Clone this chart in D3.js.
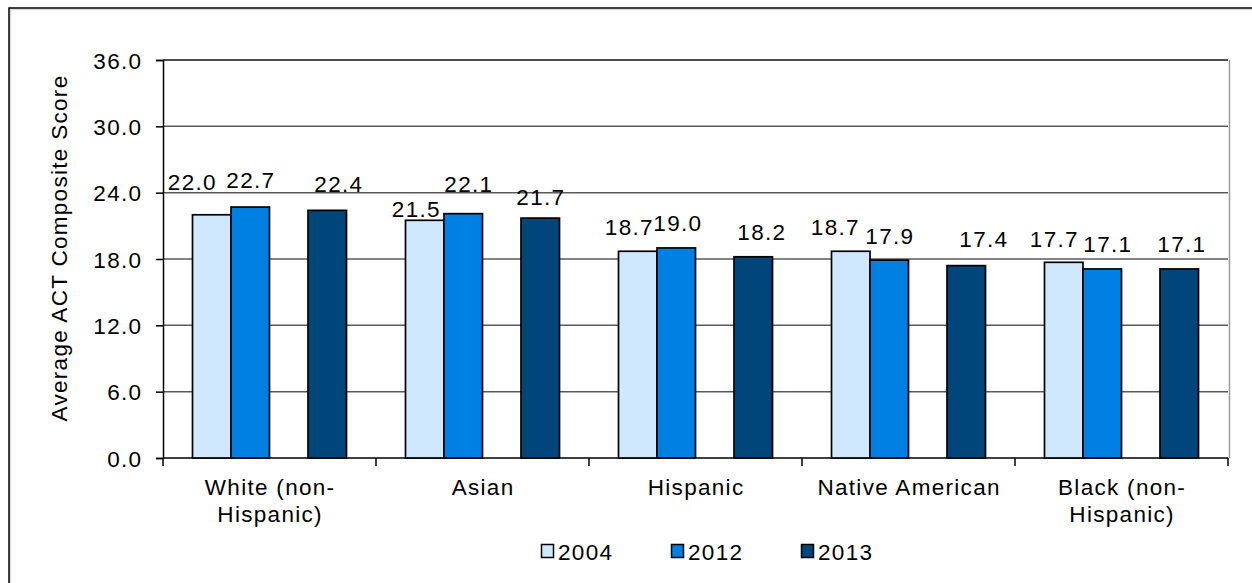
<!DOCTYPE html>
<html>
<head>
<meta charset="utf-8">
<script src="https://cdn.jsdelivr.net/npm/d3@7"></script>
<style>
  html, body { margin: 0; padding: 0; background: #fff; }
  svg { display: block; }
  text { font-family: "Liberation Sans", Arial, sans-serif; fill: #000; }
</style>
</head>
<body>
<svg id="chart" width="1252" height="583"></svg>
<script>
// Average ACT composite score by race/ethnicity
const categories = ["White (non-\nHispanic)", "Asian", "Hispanic", "Native American", "Black (non-\nHispanic)"];
const years = ["2004", "2012", "2013"];
const scores2004 = [22.0, 21.5, 18.7, 18.7, 17.7];
const scores2012 = [22.7, 22.1, 19.0, 17.9, 17.1];
const scores2013 = [22.4, 21.7, 18.2, 17.4, 17.1];
const yTicks = [0, 6, 12, 18, 24, 30, 36];

// bar slots inside each category (third slot is an empty series)
const slots = ["2004", "2012", "(blank)", "2013"];
const colors = { "2004": "#cfe8fd", "2012": "#0080e3", "2013": "#00467a" };

// hand-placed label offsets [dx, dy] from the default above-bar position
const nudge2004 = [[-20, -8], [-9, 13], [-9, 0], [-16, 0], [-10, 1]];
const nudge2012 = [[0, -2.5], [5, -5], [1, 0], [0, 0], [5, 0]];
const nudge2013 = [[11, -2], [0, 3], [8, 0], [17, -2], [2, 0]];

const seriesValues = { "2004": scores2004, "2012": scores2012, "2013": scores2013 };
const seriesNudge = { "2004": nudge2004, "2012": nudge2012, "2013": nudge2013 };

const svg = d3.select("#chart");
const plot = { left: 163, right: 1228, top: 60, bottom: 458 };
const LS = "1.3px";
const FS = "22.5px";

// outer chart border with soft shadow
svg.append("rect").attr("x", 10.5).attr("y", 9.5).attr("width", 1260).attr("height", 600)
  .attr("fill", "none").attr("stroke", "#d9d9d9").attr("stroke-width", 1.5);
svg.append("rect").attr("x", 9).attr("y", 8).attr("width", 1260).attr("height", 600)
  .attr("fill", "none").attr("stroke", "#000").attr("stroke-width", 1.5);

const x0 = d3.scaleBand().domain(categories).range([plot.left, plot.right]).padding(0);
const x1 = d3.scaleBand().domain(slots).range([29.5, x0.bandwidth() - 29.5]).padding(0);
const y = d3.scaleLinear().domain([0, 36]).range([plot.bottom, plot.top]);

// plot area shadow on right edge
svg.append("line").attr("x1", plot.right + 1.5).attr("x2", plot.right + 1.5)
  .attr("y1", plot.top).attr("y2", plot.bottom)
  .attr("stroke", "#9a9a9a").attr("stroke-width", 1.5);

// horizontal gridlines
svg.append("g").selectAll("line").data(yTicks.filter(t => t > 0)).join("line")
  .attr("x1", plot.left).attr("x2", plot.right)
  .attr("y1", d => y(d)).attr("y2", d => y(d))
  .attr("stroke", d => d === 36 ? "#111" : "#5a5a5a").attr("stroke-width", 1.5);

// y axis
const yAxis = d3.axisLeft(y).tickValues(yTicks).tickFormat(d3.format(".1f"))
  .tickSize(7).tickPadding(0);
const gy = svg.append("g").attr("transform", `translate(${plot.left},0)`).call(yAxis);
gy.select(".domain").attr("stroke", "#000").attr("stroke-width", 1.5);
gy.selectAll(".tick line").attr("stroke", "#000").attr("stroke-width", 1.5);
gy.selectAll(".tick text")
  .attr("x", -20.7).attr("dy", null).attr("y", 8)
  .style("font-size", FS).style("letter-spacing", LS).attr("font-family", null);

// x axis line and category separators
svg.append("line").attr("x1", plot.left).attr("x2", plot.right)
  .attr("y1", plot.bottom).attr("y2", plot.bottom)
  .attr("stroke", "#000").attr("stroke-width", 1.5);
const sepX = categories.map(c => x0(c)).concat([plot.right]);
svg.append("g").selectAll("line").data(sepX).join("line")
  .attr("x1", d => d).attr("x2", d => d)
  .attr("y1", plot.bottom).attr("y2", plot.bottom + 8)
  .attr("stroke", "#000").attr("stroke-width", 1.5);

// category labels
const catG = svg.append("g").selectAll("text").data(categories).join("text")
  .attr("text-anchor", "middle")
  .attr("transform", d => `translate(${x0(d) + x0.bandwidth() / 2 + 0.6},495)`)
  .style("font-size", FS).style("letter-spacing", LS);
catG.each(function (d) {
  const t = d3.select(this);
  d.split("\n").forEach((line, i) => {
    t.append("tspan").attr("x", 0).attr("y", i * 27).text(line);
  });
});

// bars and value labels
years.forEach(yr => {
  const vals = seriesValues[yr];
  const nud = seriesNudge[yr];
  const g = svg.append("g");
  g.selectAll("rect").data(vals).join("rect")
    .attr("x", (d, i) => x0(categories[i]) + x1(yr))
    .attr("y", d => y(d))
    .attr("width", x1.bandwidth())
    .attr("height", d => y(0) - y(d))
    .attr("fill", colors[yr])
    .attr("stroke", "#000").attr("stroke-width", 1.7);
  g.selectAll("text").data(vals).join("text")
    .attr("text-anchor", "middle")
    .attr("x", (d, i) => x0(categories[i]) + x1(yr) + x1.bandwidth() / 2 + nud[i][0] + 0.6)
    .attr("y", (d, i) => y(d) - 16.5 + nud[i][1])
    .style("font-size", FS).style("letter-spacing", LS)
    .text(d => d3.format(".1f")(d));
});

// axis title
svg.append("text")
  .attr("transform", "translate(67,248) rotate(-90)")
  .attr("text-anchor", "middle")
  .style("font-size", FS).style("letter-spacing", LS)
  .text("Average ACT Composite Score");

// legend
const legend = svg.append("g").selectAll("g").data(years).join("g")
  .attr("transform", (d, i) => `translate(${541 + i * 130},544)`);
legend.append("rect").attr("x", 0.5).attr("y", 0.5).attr("width", 12).attr("height", 13)
  .attr("fill", d => colors[d]).attr("stroke", "#000").attr("stroke-width", 1.5);
legend.append("text").attr("x", 17).attr("y", 16)
  .style("font-size", FS).style("letter-spacing", LS)
  .text(d => d);
</script>
</body>
</html>
